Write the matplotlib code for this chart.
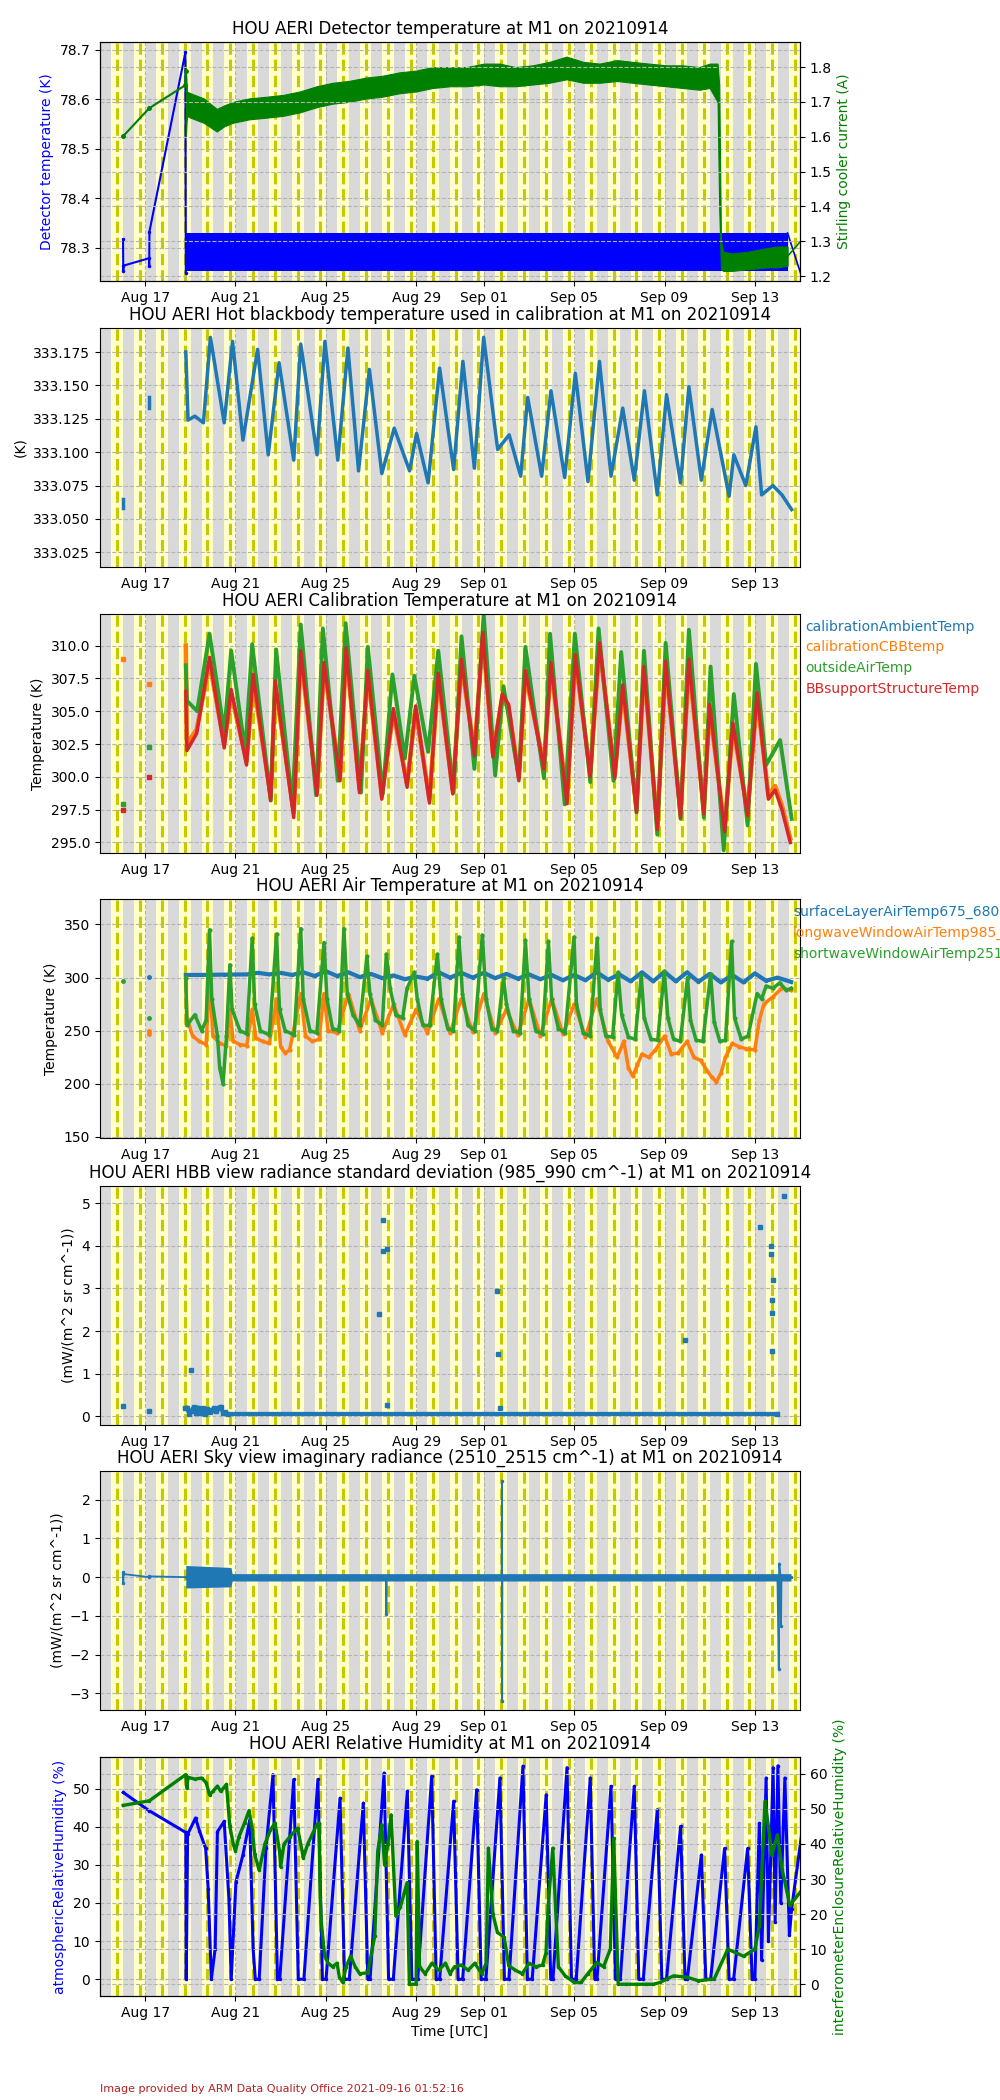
import numpy as np
import matplotlib
matplotlib.use("Agg")
import matplotlib.pyplot as plt
import matplotlib.dates as mdates
from matplotlib.ticker import MultipleLocator, FormatStrFormatter
from datetime import datetime

# time axis: days since 2021-08-15 00 UTC
T0 = mdates.date2num(datetime(2021, 8, 15))
SUNRISE_H, SUNSET_H, NOON_H = 12.0, 24.4, 18.2

# --- panel 1: detector temperature / stirling cooler current
det_t = [1.02, 1.03, 1.04, 2.17, 2.18, 2.19, 3.78, 3.8]
det_v = [78.317, 78.254, 78.264, 78.279, 78.263, 78.333, 78.695, 78.25]
det_band_t = [3.8, 30.45]
det_band_lo = [78.253, 78.253]
det_band_hi = [78.33, 78.33]
det_tail_t = [30.45, 31.3]
det_tail_v = [78.33, 78.21]

cool_early_t = [1.03, 2.18, 3.78, 3.8]
cool_early_v = [1.602, 1.682, 1.748, 1.79]
cool_t = [3.8, 3.85, 4.0, 4.6, 5.17, 5.5, 5.88, 6.6, 7.39, 8.1, 8.85, 9.6, 10.3, 11.0, 11.8, 12.5,
          13.27, 14.0, 14.73, 15.5, 16.24, 17.0, 17.7, 18.4, 19.16, 19.9, 20.66, 21.4, 22.12, 22.9,
          23.58, 24.3, 25.08, 25.8, 26.54, 27.0, 27.35, 27.42, 27.5, 27.6, 28.0, 28.7, 29.5, 30.0, 30.45]
cool_lo = [1.60, 1.66, 1.655, 1.64, 1.615, 1.63, 1.64, 1.65, 1.655, 1.66, 1.67, 1.685, 1.695, 1.70,
           1.71, 1.715, 1.725, 1.73, 1.74, 1.745, 1.745, 1.75, 1.745, 1.745, 1.75, 1.755, 1.765, 1.755,
           1.755, 1.76, 1.755, 1.75, 1.745, 1.74, 1.735, 1.74, 1.70, 1.40, 1.22, 1.215, 1.215, 1.22,
           1.225, 1.225, 1.23]
cool_hi = [1.80, 1.73, 1.725, 1.71, 1.68, 1.69, 1.70, 1.71, 1.715, 1.72, 1.73, 1.745, 1.755, 1.76,
           1.77, 1.775, 1.785, 1.79, 1.80, 1.80, 1.80, 1.81, 1.81, 1.80, 1.805, 1.815, 1.83, 1.815,
           1.81, 1.82, 1.815, 1.81, 1.805, 1.805, 1.80, 1.81, 1.81, 1.75, 1.30, 1.27, 1.265, 1.27,
           1.28, 1.285, 1.285]
cool_tail_t = [30.45, 31.3]
cool_tail_v = [1.257, 1.32]

# --- panel 2: hot blackbody temperature
hbb_early = [([1.03, 1.03], [333.065, 333.058]), ([2.18, 2.18], [333.141, 333.133])]
hbb_t = [3.8, 3.9, 4.2, 4.58, 4.89, 5.5, 5.87, 6.33, 6.98, 7.45, 7.93, 8.58, 8.89, 9.61, 9.96,
         10.53, 10.98, 11.45, 11.93, 12.48, 13.03, 13.71, 14.02, 14.53, 15.04, 15.66, 16.07, 16.58,
         16.99, 17.61, 18.12, 18.63, 18.94, 19.56, 19.97, 20.58, 21.05, 21.61, 22.12, 22.63, 23.15,
         23.66, 24.11, 24.68, 25.09, 25.71, 26.08, 26.63, 27.11, 27.86, 28.07, 28.6, 29.05, 29.3,
         29.8, 30.2, 30.63]
hbb_v = [333.175, 333.124, 333.127, 333.122, 333.186, 333.122, 333.183, 333.109, 333.177, 333.098,
         333.167, 333.094, 333.181, 333.098, 333.183, 333.094, 333.178, 333.086, 333.162, 333.084,
         333.118, 333.086, 333.114, 333.077, 333.163, 333.087, 333.168, 333.088, 333.186, 333.102,
         333.113, 333.082, 333.141, 333.082, 333.146, 333.081, 333.159, 333.078, 333.168, 333.082,
         333.133, 333.079, 333.146, 333.068, 333.143, 333.077, 333.149, 333.079, 333.132, 333.067,
         333.098, 333.075, 333.119, 333.068, 333.075, 333.068, 333.057]

# --- panel 3: calibration temperatures
cal_early_t = [1.03, 2.18]
cbb_early_v = [308.95, 307.1]
out_early_v = [297.95, 302.25]
bb_early_v = [297.5, 299.95]
bb_t = [3.8, 3.85, 4.28, 4.85, 5.5, 5.81, 6.49, 6.78, 7.56, 7.76, 8.58, 8.89, 9.61, 9.92, 10.63,
        10.9, 11.49, 11.86, 12.48, 12.99, 13.6, 13.98, 14.59, 14.98, 15.62, 16.01, 16.58, 16.95,
        17.4, 17.81, 18.1, 18.55, 18.84, 19.66, 19.97, 20.68, 21.05, 21.71, 22.12, 22.8, 23.15,
        23.76, 24.09, 24.68, 25.05, 25.71, 26.08, 26.74, 27.0, 27.66, 28.03, 28.68, 29.1, 29.6,
        29.9, 30.2, 30.57]
bb_v = [306.5, 302.0, 303.3, 309.1, 302.2, 306.65, 300.9, 307.8, 298.2, 307.3, 296.9, 309.6, 298.6,
        308.7, 299.7, 309.85, 298.8, 308.1, 298.3, 305.2, 299.2, 305.4, 298.0, 307.9, 298.7, 308.95,
        301.6, 311.0, 301.5, 306.3, 305.5, 299.7, 308.1, 300.6, 308.7, 297.95, 309.3, 300.0, 310.2,
        299.9, 307.0, 297.3, 308.4, 296.0, 308.8, 296.9, 308.95, 297.2, 305.5, 295.8, 304.1, 297.05,
        306.4, 298.3, 299.0, 297.5, 295.0]
cbb_v = [310.0, 302.5, 303.6, 308.7, 302.5, 306.3, 301.2, 307.4, 298.5, 307.0, 297.3, 309.2, 298.9,
         308.4, 300.0, 309.5, 299.1, 307.8, 298.6, 304.9, 299.5, 305.1, 298.3, 307.6, 299.0, 308.6,
         301.9, 310.6, 301.8, 306.0, 305.2, 300.0, 307.8, 300.9, 308.4, 298.3, 309.0, 300.3, 309.9,
         300.2, 306.7, 297.6, 308.1, 296.3, 308.5, 297.2, 308.6, 297.5, 305.2, 296.1, 303.8, 297.35,
         306.1, 298.6, 299.3, 297.8, 295.3]
amb_v = cbb_v  # hidden underneath the CBB trace in the original
out_t = [3.8, 3.85, 4.3, 4.85, 5.5, 5.81, 6.43, 6.74, 7.56, 7.8, 8.52, 8.89, 9.57, 9.87, 10.53,
         10.88, 11.56, 11.86, 12.52, 12.95, 13.5, 13.92, 14.53, 14.98, 15.66, 16.01, 16.58, 16.99,
         17.5, 17.87, 18.55, 18.84, 19.66, 19.93, 20.58, 21.03, 21.71, 22.08, 22.74, 23.08, 23.76,
         24.09, 24.68, 25.05, 25.71, 26.08, 26.74, 27.04, 27.62, 28.07, 28.68, 29.05, 29.5, 30.12, 30.63]
out_v = [308.5, 305.8, 305.0, 310.9, 303.4, 309.6, 301.9, 310.1, 298.2, 309.7, 297.8, 311.6, 298.6,
         311.3, 299.7, 311.7, 298.8, 309.9, 298.7, 307.8, 301.4, 307.7, 301.9, 309.6, 298.8, 310.7,
         300.6, 312.4, 300.1, 306.9, 299.9, 309.9, 299.9, 310.9, 297.9, 310.9, 299.6, 311.3, 299.7,
         309.5, 297.3, 309.6, 295.6, 310.2, 296.8, 311.2, 296.9, 308.4, 294.4, 306.3, 296.3, 308.6,
         300.9, 302.8, 296.8]
cal_labels = ["calibrationAmbientTemp", "calibrationCBBtemp", "outsideAirTemp", "BBsupportStructureTemp"]

# --- panel 4: air temperatures
sl_early_t, sl_early_v = [2.18], [300.2]
sl_t = [3.8, 4.5, 5.5, 6.5, 7.0, 7.5, 8.0, 8.5, 9.0, 9.5, 10.0, 10.5, 11.0, 11.5, 12.0, 12.5, 13.0,
        13.5, 14.0, 14.5, 15.0, 15.5, 16.0, 16.5, 17.0, 17.5, 18.0, 18.5, 19.0, 19.5, 20.0, 20.5,
        21.0, 21.5, 22.0, 22.5, 23.0, 23.5, 24.0, 24.5, 25.0, 25.5, 26.0, 26.5, 27.0, 27.5, 28.0,
        28.5, 29.0, 29.5, 30.0, 30.6]
sl_v = [302.5, 302.5, 302.8, 303.0, 304.5, 303.0, 304.5, 302.5, 305.0, 301.5, 306.0, 301.5, 305.0,
        300.5, 303.5, 299.5, 302.0, 298.5, 301.0, 299.0, 305.0, 300.0, 304.5, 300.0, 304.5, 299.5,
        303.5, 299.0, 303.0, 298.5, 302.5, 297.5, 302.5, 297.5, 305.0, 298.0, 303.0, 296.5, 305.0,
        296.5, 305.5, 296.5, 305.0, 296.0, 303.5, 295.5, 302.5, 295.5, 304.0, 297.0, 300.0, 296.0]
lw_early_t, lw_early_v = [2.18, 2.19], [250, 247]
lw_t = [3.8, 3.85, 4.1, 4.4, 4.7, 4.85, 5.0, 5.3, 5.6, 5.75, 5.9, 6.2, 6.5, 6.74, 6.9, 7.2, 7.5,
        7.82, 8.0, 8.2, 8.4, 8.89, 9.1, 9.4, 9.7, 9.92, 10.1, 10.5, 11.0, 11.5, 12.0, 12.5, 13.0,
        13.5, 14.0, 14.5, 15.0, 15.5, 16.0, 16.5, 17.0, 17.5, 18.0, 18.5, 19.0, 19.5, 20.0, 20.5,
        21.0, 21.5, 22.0, 22.5, 22.9, 23.2, 23.4, 23.6, 23.8, 24.0, 24.3, 24.6, 25.0, 25.3, 25.6,
        26.0, 26.3, 26.6, 26.9, 27.1, 27.3, 27.5, 27.7, 28.0, 28.3, 28.6, 29.0, 29.2, 29.4, 29.8,
        30.2, 30.6]
lw_v = [300, 262, 245, 240, 237, 300, 245, 238, 236, 270, 240, 237, 236, 270, 243, 240, 238, 280,
        235, 229, 232, 285, 245, 240, 242, 285, 250, 248, 285, 250, 280, 248, 275, 246, 270, 248,
        280, 248, 280, 249, 285, 248, 270, 246, 280, 245, 280, 247, 275, 244, 280, 240, 225, 240,
        215, 207, 218, 228, 225, 232, 245, 228, 229, 240, 225, 222, 212, 206, 202, 210, 225, 238,
        235, 233, 232, 260, 275, 282, 290, 288]
sw_early_t, sw_early_v = [1.03, 2.18], [297, 261.7]
sw_t = [3.8, 3.85, 4.2, 4.5, 4.7, 4.85, 4.95, 5.2, 5.3, 5.45, 5.6, 5.75, 5.85, 6.2, 6.5, 6.74, 6.85,
        7.1, 7.5, 7.82, 7.95, 8.2, 8.6, 8.89, 9.0, 9.3, 9.6, 9.92, 10.05, 10.3, 10.6, 10.8, 10.95,
        11.2, 11.5, 11.82, 11.95, 12.2, 12.5, 12.68, 12.85, 13.1, 13.4, 13.6, 13.92, 14.05, 14.3,
        14.6, 14.94, 15.1, 15.4, 15.65, 15.9, 16.05, 16.3, 16.6, 16.93, 17.1, 17.35, 17.6, 17.87,
        18.0, 18.3, 18.6, 18.84, 19.0, 19.3, 19.6, 19.86, 20.0, 20.3, 20.6, 20.99, 21.1, 21.4, 21.7,
        22.02, 22.15, 22.4, 22.7, 22.94, 23.1, 23.4, 23.7, 23.97, 24.1, 24.4, 24.7, 24.99, 25.15,
        25.4, 25.7, 26.02, 26.15, 26.4, 26.7, 27.04, 27.2, 27.45, 27.7, 27.97, 28.1, 28.4, 28.7,
        29.1, 29.3, 29.5, 29.8, 30.1, 30.4, 30.6]
sw_v = [300, 255, 265, 250, 260, 345, 280, 245, 215, 200, 245, 312, 270, 250, 247, 337, 275, 250,
        246, 341, 270, 250, 246, 346, 280, 250, 248, 333, 280, 252, 250, 346, 285, 265, 255, 320,
        285, 260, 255, 322, 290, 265, 262, 290, 305, 280, 255, 255, 322, 280, 252, 250, 338, 285,
        255, 250, 340, 280, 252, 250, 300, 275, 250, 248, 335, 280, 250, 247, 334, 280, 252, 248,
        338, 275, 248, 245, 337, 270, 245, 244, 305, 265, 244, 242, 302, 262, 242, 241, 306, 262,
        242, 240, 300, 260, 241, 240, 303, 258, 240, 241, 334, 262, 242, 245, 285, 280, 292, 290,
        295, 288, 290]
air_labels = ["surfaceLayerAirTemp675_680", "longwaveWindowAirTemp985_990",
              "shortwaveWindowAirTemp2510_2515"]

# --- panel 5: HBB view radiance standard deviation
sd_t = [3.78, 3.85, 3.95, 4.05, 4.15, 4.25, 4.35, 4.45, 4.55, 4.65, 4.75, 4.85, 4.95, 5.05, 5.15,
        5.25, 5.35, 5.45, 5.55, 5.65, 30.0]
sd_v = [0.18, 0.2, 0.06, 0.12, 0.21, 0.07, 0.2, 0.08, 0.18, 0.06, 0.16, 0.09, 0.14, 0.18, 0.13,
        0.2, 0.22, 0.08, 0.09, 0.05, 0.05]
sd_out_t = [1.04, 2.19, 4.04, 12.37, 12.52, 12.55, 12.7, 12.72, 17.6, 17.62, 17.7, 25.9, 29.23,
            29.7, 29.72, 29.74, 29.76, 29.78, 29.8, 30.3]
sd_out_v = [0.24, 0.12, 1.09, 2.39, 3.88, 4.62, 3.93, 0.26, 2.93, 1.47, 0.18, 1.79, 4.45, 4.01,
            3.82, 2.74, 2.42, 1.54, 3.2, 5.18]

# --- panel 6: sky view imaginary radiance
sky_t = [1.02, 1.03, 1.04, 2.18, 2.19, 3.8, 12.66, 12.68, 12.7, 17.79, 17.8, 17.81, 17.82, 30.0,
         30.06, 30.08, 30.14, 30.16, 30.18, 30.6]
sky_v = [0.12, -0.14, 0.08, 0.0, 0.02, 0.0, 0.0, -0.96, 0.0, 0.0, 2.47, -3.19, 0.0, 0.0, -2.38,
         0.35, 0.0, -1.25, 0.0, 0.0]
sky_band_t = [3.8, 5.8, 5.85, 30.6]
sky_band_lo = [-0.28, -0.25, -0.1, -0.1]
sky_band_hi = [0.3, 0.25, 0.09, 0.09]

# --- panel 7: relative humidity
rha_t = [1.03, 2.18, 3.8, 3.82, 3.88, 4.23, 4.4, 4.68, 4.79, 4.93, 5.1, 5.2, 5.5, 5.71, 5.81, 6.02,
         6.33, 6.63, 6.78, 6.88, 7.05, 7.35, 7.66, 7.86, 7.96, 8.58, 8.78, 9.03, 9.65, 9.85, 10.01,
         10.63, 10.83, 11.04, 11.66, 11.86, 11.96, 12.58, 12.78, 12.99, 13.61, 13.81, 14.07, 14.69,
         14.89, 15.04, 15.66, 15.86, 16.06, 16.68, 16.88, 17.09, 17.71, 17.91, 18.11, 18.73, 18.93,
         19.14, 19.76, 19.96, 20.06, 20.68, 20.88, 21.09, 21.71, 21.91, 22.01, 22.63, 22.83, 23.04,
         23.66, 23.86, 24.06, 24.68, 24.88, 25.09, 25.71, 25.91, 26.01, 26.63, 26.83, 27.04, 27.66,
         27.86, 28.06, 28.68, 28.88, 29.0, 29.2, 29.3, 29.5, 29.6, 29.81, 29.9, 30.02, 30.15, 30.33,
         30.53, 30.63, 31.25]
rha_v = [49.0, 44.2, 38.5, 0.0, 38.0, 42.3, 39.0, 34.3, 23.8, 0.0, 8.0, 38.7, 41.4, 21.0, 0.0, 25.5,
         32.6, 41.8, 8.0, 0.0, 0.0, 34.3, 53.7, 0.0, 0.0, 52.4, 0.0, 0.0, 52.4, 0.0, 0.0, 47.5, 0.0,
         0.0, 46.2, 0.0, 0.0, 54.1, 0.0, 0.0, 49.3, 0.0, 0.0, 53.3, 0.0, 0.0, 46.7, 0.0, 0.0, 49.7,
         0.0, 0.0, 52.8, 0.0, 0.0, 55.9, 0.0, 0.0, 48.4, 0.0, 0.0, 55.5, 0.0, 0.0, 52.8, 0.0, 0.0,
         50.6, 0.0, 0.0, 50.6, 0.0, 0.0, 44.5, 0.0, 0.0, 40.1, 0.0, 0.0, 32.6, 0.0, 0.0, 34.3, 0.0,
         0.0, 34.3, 0.0, 0.0, 40.9, 5.0, 52.8, 10.0, 55.5, 15.0, 56.0, 20.0, 52.8, 11.5, 18.5, 45.8]
rhe_t = [1.03, 2.18, 3.8, 3.85, 3.9, 4.2, 4.5, 4.7, 4.85, 5.0, 5.2, 5.35, 5.6, 5.75, 5.9, 6.0, 6.15,
         6.4, 6.6, 6.75, 6.85, 7.05, 7.3, 7.55, 7.75, 7.95, 8.0, 8.15, 8.4, 8.75, 8.95, 9.0, 9.2, 9.6,
         9.7, 9.75, 9.8, 9.95, 10.1, 10.3, 10.5, 10.6, 10.75, 10.9, 11.1, 11.3, 11.5, 11.86, 12.17,
         12.3, 12.48, 12.6, 12.75, 12.89, 13.1, 13.3, 13.6, 13.7, 14.0, 14.05, 14.15, 14.4, 14.7,
         15.0, 15.3, 15.5, 15.7, 16.0, 16.3, 16.6, 16.9, 17.1, 17.2, 17.4, 17.6, 17.9, 18.1, 18.4,
         18.7, 19.0, 19.3, 19.6, 19.75, 19.85, 20.05, 20.3, 20.6, 21.0, 21.3, 21.6, 22.0, 22.3, 22.6,
         22.75, 22.95, 23.3, 23.8, 24.2, 24.5, 24.8, 25.4, 26.0, 26.5, 27.2, 27.8, 28.5, 29.0, 29.2,
         29.45, 29.6, 29.75, 30.0, 30.2, 30.55, 31.25]
rhe_v = [51.0, 52.3, 59.8, 56.0, 59.0, 58.5, 58.8, 57.5, 54.0, 55.0, 56.5, 55.0, 57.0, 45.0, 40.0,
         38.0, 42.0, 46.0, 49.5, 44.0, 37.0, 32.5, 40.0, 44.0, 46.0, 38.0, 33.5, 40.0, 42.0, 44.5,
         38.0, 36.0, 40.0, 45.5, 46.0, 25.0, 17.7, 8.0, 6.0, 5.0, 6.0, 2.0, 0.5, 5.0, 8.0, 5.0, 3.0,
         3.3, 13.9, 38.0, 45.5, 34.0, 40.0, 48.3, 19.6, 22.0, 29.0, 0.0, 0.0, 40.7, 5.0, 3.0, 6.0,
         4.0, 6.0, 3.0, 5.0, 5.5, 4.0, 6.0, 3.0, 6.0, 38.8, 20.0, 14.8, 13.4, 5.3, 4.0, 3.0, 6.0,
         5.0, 5.5, 9.0, 22.5, 38.8, 5.0, 2.4, 0.5, 0.5, 3.0, 6.2, 5.0, 10.0, 41.6, 0.0, 0.0, 0.0,
         0.0, 0.0, 0.5, 2.4, 2.0, 1.0, 1.5, 10.0, 8.0, 10.0, 16.7, 52.2, 45.0, 36.8, 42.6, 33.0,
         22.5, 28.2]


def dn(t):
    return np.asarray(t, dtype=float) + T0


fig = plt.figure(figsize=(10, 21), dpi=100)


def make_ax(top, title):
    ax = fig.add_axes([0.1, 1 - (top + 239) / 2100, 0.7, 239 / 2100])
    ax.set_facecolor("#d9d9d9")
    for d in range(-1, 32):
        ax.axvspan(T0 + d + SUNRISE_H / 24, T0 + d + SUNSET_H / 24, color="#ffffcc", lw=0, zorder=0.8)
        ax.axvline(T0 + d + NOON_H / 24, color="#c8c800", ls="--", lw=2.2, zorder=1.2)
    ax.set_xlim(T0, T0 + 31)
    ax.xaxis.set_major_locator(mdates.DayLocator(bymonthday=[1, 5, 9, 13, 17, 21, 25, 29]))
    ax.xaxis.set_major_formatter(mdates.DateFormatter("%b %d"))
    ax.grid(True, ls="--", color="#b4b4b4", lw=0.8)
    ax.set_title(title, fontsize=12)
    return ax


def twin(ax):
    ax2 = ax.twinx()
    ax2.grid(True, ls="--", color="#b4b4b4", lw=0.8)
    return ax2


def text_legend(ax, handles, labels, x):
    leg = ax.legend(handles, labels, loc="upper left", bbox_to_anchor=(x, 1.0), frameon=False,
                    handlelength=0, handletextpad=0, borderaxespad=0, fontsize=10)
    for txt, h in zip(leg.get_texts(), leg.legend_handles):
        txt.set_color(h.get_color())
        h.set_visible(False)


# panel 1
ax = make_ax(42, "HOU AERI Detector temperature at M1 on 20210914")
ax.fill_between(dn(det_band_t), det_band_lo, det_band_hi, color="blue", lw=0, zorder=2)
ax.plot(dn(det_t), det_v, color="blue", lw=1.5, marker=".", ms=3)
ax.plot(dn(det_tail_t), det_tail_v, color="blue", lw=1.2)
ax.set_ylim(78.233, 78.716)
ax.yaxis.set_major_locator(MultipleLocator(0.1))
ax.yaxis.set_major_formatter(FormatStrFormatter("%.1f"))
ax.set_ylabel("Detector temperature (K)", color="blue")
ax2 = twin(ax)
ax2.fill_between(dn(cool_t), cool_lo, cool_hi, color="green", lw=0.8, edgecolor="green")
ax2.plot(dn(cool_early_t), cool_early_v, color="green", lw=1.5, marker=".", ms=5)
ax2.plot(dn(cool_tail_t), cool_tail_v, color="green", lw=1.2)
ax2.set_ylim(1.186, 1.872)
ax2.yaxis.set_major_locator(MultipleLocator(0.1))
ax2.yaxis.set_major_formatter(FormatStrFormatter("%.1f"))
ax2.set_ylabel("Stirling cooler current (A)", color="green")

# panel 2
ax = make_ax(328, "HOU AERI Hot blackbody temperature used in calibration at M1 on 20210914")
for et, ev in hbb_early:
    ax.plot(dn(et), ev, color="tab:blue", lw=2.5)
ax.plot(dn(hbb_t), hbb_v, color="tab:blue", lw=2.5)
ax.set_ylim(333.014, 333.193)
ax.yaxis.set_major_locator(MultipleLocator(0.025))
ax.yaxis.set_major_formatter(FormatStrFormatter("%.3f"))
ax.set_ylabel("(K)")

# panel 3
ax = make_ax(614, "HOU AERI Calibration Temperature at M1 on 20210914")
h1, = ax.plot(dn(bb_t), amb_v, color="tab:blue", lw=2.5)
h2, = ax.plot(dn(bb_t), cbb_v, color="tab:orange", lw=3.2)
h3, = ax.plot(dn(out_t), out_v, color="tab:green", lw=2.8)
h4, = ax.plot(dn(bb_t), bb_v, color="tab:red", lw=2.5)
ax.plot(dn(cal_early_t), cbb_early_v, ls="none", marker="s", ms=3, color="tab:orange")
ax.plot(dn(cal_early_t), out_early_v, ls="none", marker="s", ms=3, color="tab:green")
ax.plot(dn(cal_early_t), bb_early_v, ls="none", marker="s", ms=3, color="tab:red")
ax.set_ylim(294.2, 312.4)
ax.yaxis.set_major_locator(MultipleLocator(2.5))
ax.yaxis.set_major_formatter(FormatStrFormatter("%.1f"))
ax.set_ylabel("Temperature (K)")
text_legend(ax, [h1, h2, h3, h4], cal_labels, 1.0)

# panel 4
ax = make_ax(899, "HOU AERI Air Temperature at M1 on 20210914")
h1, = ax.plot(dn(sl_t), sl_v, color="tab:blue", lw=3, marker=".", ms=3)
h2, = ax.plot(dn(lw_t), lw_v, color="tab:orange", lw=2.5, marker=".", ms=4)
h3, = ax.plot(dn(sw_t), sw_v, color="tab:green", lw=2.5, marker=".", ms=4)
ax.plot(dn(sl_early_t), sl_early_v, ls="none", marker=".", ms=5, color="tab:blue")
ax.plot(dn(lw_early_t), lw_early_v, ls="none", marker=".", ms=5, color="tab:orange")
ax.plot(dn(sw_early_t), sw_early_v, ls="none", marker=".", ms=5, color="tab:green")
ax.set_ylim(149, 374)
ax.yaxis.set_major_locator(MultipleLocator(50))
ax.set_ylabel("Temperature (K)")
text_legend(ax, [h1, h2, h3], air_labels, 0.982)

# panel 5
ax = make_ax(1186, "HOU AERI HBB view radiance standard deviation (985_990 cm^-1) at M1 on 20210914")
ax.plot(dn(sd_t), sd_v, color="tab:blue", lw=3, marker="s", ms=2.5)
ax.plot(dn(sd_out_t), sd_out_v, color="tab:blue", ls="none", marker="s", ms=2.5)
ax.set_ylim(-0.21, 5.41)
ax.yaxis.set_major_locator(MultipleLocator(1))
ax.set_ylabel("(mW/(m^2 sr cm^-1))")

# panel 6
ax = make_ax(1471, "HOU AERI Sky view imaginary radiance (2510_2515 cm^-1) at M1 on 20210914")
ax.fill_between(dn(sky_band_t), sky_band_lo, sky_band_hi, color="tab:blue", lw=0, zorder=2)
ax.plot(dn(sky_t), sky_v, color="tab:blue", lw=1.3, marker=".", ms=3)
ax.set_ylim(-3.43, 2.74)
ax.yaxis.set_major_locator(MultipleLocator(1))
ax.set_ylabel("(mW/(m^2 sr cm^-1))")

# panel 7
ax = make_ax(1757, "HOU AERI Relative Humidity at M1 on 20210914")
ax.plot(dn(rha_t), rha_v, color="blue", lw=2.2, marker=".", ms=3)
ax.set_ylim(-4.4, 58.3)
ax.yaxis.set_major_locator(MultipleLocator(10))
ax.set_ylabel("atmosphericRelativeHumidity (%)", color="blue")
ax.set_xlabel("Time [UTC]")
ax2 = twin(ax)
ax2.plot(dn(rhe_t), rhe_v, color="green", lw=2.4, marker=".", ms=3)
ax2.set_ylim(-3.35, 64.8)
ax2.yaxis.set_major_locator(MultipleLocator(10))
ax2.set_ylabel("interferometerEnclosureRelativeHumidity (%)", color="green")

fig.text(0.1, 1 - 2092 / 2100, "Image provided by ARM Data Quality Office 2021-09-16 01:52:16",
         color="firebrick", fontsize=8)

fig.savefig("out.png", dpi=100)
